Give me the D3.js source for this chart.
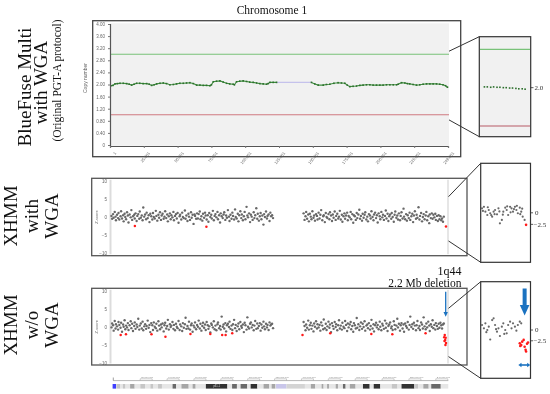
<!doctype html>
<html>
<head>
<meta charset="utf-8">
<script src="https://d3js.org/d3.v7.min.js"></script>
<style>
  body { margin: 0; background: #fff; }
  svg { will-change: transform; }
  .big { font: 19px "Liberation Serif", serif; fill: #111; }
  .mid { font: 11.5px "Liberation Serif", serif; fill: #111; }
  .tiny { font-family: "Liberation Sans", sans-serif; font-size: 4.5px; fill: #666; }
  .inlab { font: 7px "Liberation Serif", serif; fill: #333; }
</style>
</head>
<body>
<script>

// ---- BlueFuse copy number (Mb, copy number) ----
var cnP = [[0.7,1.96],[2.2,1.97],[3.7,2.02],[5.5,2.03],[7.4,2.04],[9.8,2.04],[12.3,2.03],[14.2,2.01],[16.0,1.98],[17.8,2.01],
  [19.7,2.04],[22.0,2.04],[24.5,2.03],[27.1,2.03],[29.0,2.01],[30.8,1.97],[32.6,1.99],[34.5,2.02],[37.0,2.04],[39.4,2.05],
  [41.8,2.03],[44.3,1.99],[46.8,2.00],[49.2,2.02],[51.7,2.04],[54.2,2.04],[56.6,2.05],[59.1,2.06],[61.6,2.03],[64.1,1.98],
  [66.5,1.98],[69.0,1.97],[71.4,1.97],[73.9,1.96],[75.0,1.99],[76.4,2.09],[78.8,2.11],[81.3,2.12],[83.7,2.08],[86.2,2.04],
  [88.6,2.02],[91.1,2.01],[92.0,1.99],[93.6,2.09],[96.0,2.11],[98.5,2.12],[101.0,2.10],[103.4,2.08],[105.9,2.07],[108.4,2.05],
  [110.9,2.03],[113.3,2.02],[115.8,2.01],[117.0,2.03],[118.3,2.07],[120.7,2.07],[123.2,2.07]];
var cnGap = [[123.2,2.07],[149.0,2.07]];
var cnQ = [[149.0,2.07],[151.5,2.02],[154.0,1.98],[157.7,1.98],[160.1,2.00],[162.6,2.01],[165.6,2.04],[168.7,2.06],[171.2,2.05],
  [173.7,2.04],[175.5,1.98],[177.4,1.93],[179.8,1.94],[182.3,1.95],[184.8,1.97],[187.2,1.98],[189.7,1.99],[192.2,1.99],[194.6,1.98],
  [197.1,1.98],[199.6,1.98],[202.0,1.98],[204.5,1.99],[207.0,1.99],[209.5,1.99],[212.0,1.99],[213.1,2.01],[215.6,2.06],[218.1,2.05],
  [220.0,2.03],[221.7,2.02],[224.2,2.00],[226.7,1.98],[229.1,1.99],[231.6,2.01],[234.1,2.02],[236.6,2.02],[239.0,2.02],[241.5,2.02],
  [243.9,2.01],[246.3,1.99],[248.2,1.96],[249.6,1.91]];
var cnGain = 3.0, cnLoss = 1.0;
var cnTicks = [0,0.4,0.8,1.2,1.6,2.0,2.4,2.8,3.2,3.6,4.0];
var posTicks = [0,25,50,75,100,125,150,175,200,225,250];
var posTickLabels = ['1','25,001','50,001','75,001','100,001','125,001','150,001','175,001','200,001','225,001','249,001'];

// BlueFuse inset (Mb, copy number)
var cnInset = [[240.6,2.02],[241.2,2.02],[241.9,2.01],[242.5,2.02],[243.2,2.01],[243.8,2.01],[244.5,2.00],[245.1,2.00],
  [245.8,1.99],[246.4,1.99],[247.1,1.98],[247.7,1.97],[248.4,1.97],[249.0,1.96]];

// ---- XHMM exome targets (Mb) ----
var targetMb = [1.1,1.6,2.3,2.7,3.5,4.1,4.4,5.2,6.0,6.3,6.9,7.8,8.2,8.9,9.7,10.1,10.8,11.3,11.9,12.6,13.2,13.7,14.5,15.3,15.8,
  16.4,17.0,17.9,18.3,18.9,19.7,20.2,20.9,21.6,22.0,22.8,23.5,24.1,24.6,25.3,26.0,26.7,27.1,27.9,28.6,29.2,29.8,30.5,31.3,31.8,
  32.4,33.1,33.9,34.3,35.0,35.8,36.3,37.0,37.7,38.2,38.9,39.7,40.3,40.8,41.6,42.3,42.8,43.5,44.3,44.9,45.4,46.2,46.9,47.3,48.1,
  48.8,49.4,50.0,50.7,51.5,51.9,52.7,53.4,53.9,54.6,55.4,55.9,56.5,57.3,58.0,58.4,59.2,59.9,60.4,61.1,61.8,62.5,62.9,63.7,64.4,
  65.0,65.6,66.4,66.9,67.6,68.3,68.8,69.6,70.3,70.8,71.5,72.3,72.8,73.4,74.2,74.9,75.3,76.1,76.8,77.4,78.0,78.7,79.5,79.9,80.7,
  81.4,81.9,82.6,83.4,84.0,84.5,85.3,85.9,86.5,87.2,88.0,88.4,89.1,89.9,90.5,91.0,91.8,92.5,93.0,93.7,94.5,95.0,95.6,96.4,97.1,
  97.5,98.3,99.0,99.6,100.2,101.0,101.6,102.1,102.9,103.6,104.2,104.8,105.5,106.3,106.8,107.4,108.2,108.9,109.3,110.1,110.8,111.4,
  112.0,112.7,113.5,114.0,114.6,115.4,116.1,116.5,117.3,118.0,118.6,119.2,119.9,120.6,
  143.2,143.9,144.6,145.1,145.8,146.6,147.1,147.8,148.5,149.0,149.7,150.5,151.0,151.6,152.4,153.1,153.5,154.3,155.0,155.6,156.2,
  157.0,157.7,158.1,158.9,159.6,160.2,160.8,161.6,162.3,162.7,163.5,164.2,164.8,165.4,166.2,166.9,167.3,168.1,168.8,169.4,170.0,
  170.7,171.5,171.9,172.7,173.4,173.9,174.6,175.4,175.9,176.5,177.3,178.0,178.4,179.2,179.9,180.4,181.1,181.8,182.5,182.9,183.7,
  184.4,185.0,185.6,186.4,186.9,187.6,188.3,188.8,189.6,190.3,190.8,191.5,192.3,192.8,193.4,194.2,194.9,195.3,196.1,196.8,197.4,
  198.0,198.7,199.5,199.9,200.7,201.4,201.9,202.6,203.4,204.0,204.5,205.3,205.9,206.5,207.2,208.0,208.4,209.1,209.9,210.5,211.0,
  211.8,212.5,213.0,213.7,214.5,215.0,215.6,216.4,217.1,217.5,218.3,219.0,219.6,220.2,221.0,221.6,222.1,222.9,223.6,224.2,224.8,
  225.5,226.3,226.8,227.4,228.2,228.9,229.3,230.1,230.8,231.4,232.0,232.7,233.5,234.0,234.6,235.4,236.1,236.5,237.3,238.0,238.6,
  239.2,239.9,240.6,241.0,241.8,242.5,243.1,243.7,244.4,245.0,245.6,246.3,246.9];
var nP = 184; // targets on the p arm

// z-scores, XHMM with WGA (p arm then q arm)
var zWithP = [0.3,-0.5,0.8,-0.2,1.4,0.1,-0.9,0.6,-0.3,1.1,-0.7,0.2,1.6,-0.4,0.5,-1.2,0.9,0.0,-0.6,1.3,
  0.4,-1.5,0.7,-0.1,1.9,-0.8,0.2,0.6,-0.4,1.0,-1.1,0.3,0.8,-0.5,1.5,-0.2,0.4,-0.9,2.6,0.1,
  0.7,-0.6,1.2,-0.3,0.5,-1.4,0.9,0.2,-0.7,1.1,0.0,-0.4,1.7,0.3,-1.0,0.6,-0.2,1.3,-0.8,0.4,
  0.9,-0.5,0.1,1.6,-0.3,0.7,-1.2,0.2,1.0,-0.6,0.5,-0.1,1.4,-0.9,0.3,0.8,-0.4,1.1,-1.6,0.2,
  0.6,-0.7,1.2,0.0,-0.3,1.8,-0.5,0.4,-1.1,0.9,0.1,-0.8,1.3,-0.2,0.6,-1.9,0.7,0.3,-0.5,1.0,
  -0.4,0.8,1.5,-0.6,0.2,-1.0,0.9,-0.2,1.2,0.4,-0.7,0.5,-1.3,1.1,0.0,0.6,-0.4,1.7,-0.9,0.3,
  0.8,-0.1,1.4,-0.6,0.5,-1.5,1.0,0.2,-0.3,0.7,1.3,-0.8,0.4,-0.2,1.9,0.1,-1.1,0.6,-0.5,1.2,
  0.3,-0.7,2.1,0.0,-0.4,0.9,-1.2,0.5,1.6,-0.3,0.7,-0.9,0.2,1.4,-0.6,2.8,0.4,-0.1,1.0,-1.4,
  0.6,0.1,-0.8,1.3,-0.3,0.5,2.4,-0.5,0.9,-1.0,0.2,1.1,-0.6,0.4,-2.1,0.8,0.0,1.5,-0.4,0.3,
  0.7,-1.1,1.2,0.2];
var zWithQ = [0.5,-0.3,1.0,-0.8,0.2,1.4,-0.5,0.7,-1.2,0.9,0.1,-0.6,1.6,-0.2,0.4,-1.0,0.8,0.3,-0.7,1.2,
  -0.4,0.6,1.9,-0.9,0.2,0.5,-1.4,1.1,0.0,-0.3,0.8,-0.6,1.3,0.4,-1.1,0.7,-0.2,1.5,-0.8,0.3,
  0.9,-0.4,0.1,1.7,-0.7,0.6,-1.3,0.2,1.0,-0.5,0.4,1.2,-0.9,0.3,-0.1,1.4,-0.6,0.8,-1.6,0.5,
  0.2,-0.8,1.1,-0.3,0.7,2.0,-0.5,0.3,-1.0,0.9,-0.2,0.6,1.3,-0.7,0.1,-1.2,0.8,0.4,-0.4,1.6,
  0.0,-0.9,0.7,1.2,-0.3,0.5,-1.5,1.0,0.2,-0.6,1.4,-0.1,0.6,-0.8,0.3,1.8,-0.4,0.9,-1.1,0.2,
  0.7,-0.5,1.1,0.0,-1.3,0.6,1.5,-0.2,0.4,-0.7,1.0,-0.9,0.3,1.3,-0.4,2.3,0.1,-0.6,0.8,-1.0,
  0.5,-0.3,1.2,-0.8,0.2,0.9,-1.4,0.4,1.6,-0.5,0.6,-0.2,2.7,-0.7,0.3,1.1,-1.2,0.0,0.8,-0.6,
  0.4,1.4,-0.9,0.2,-1.7,0.7,-0.3,1.0,-0.5,0.6,-0.1,0.9,-0.8,0.3,-1.1,0.5,-0.6,0.2,-0.9,-0.4,
  -1.3,0.1,-0.7,-1.0];
var redWith = [[18.4,-2.5],[71.3,-2.7],[248.5,-2.6]];

// z-scores, XHMM without WGA
var zNoP = [-0.2,0.9,0.4,-1.1,1.6,-0.5,0.7,0.1,-0.8,1.3,0.5,-0.3,1.1,-1.4,0.6,0.0,1.8,-0.7,0.3,-0.2,
  1.0,-0.9,0.4,1.5,-0.4,0.8,-1.2,0.2,1.2,-0.6,0.6,-0.1,2.2,-0.8,0.3,0.9,-0.5,1.4,-1.0,0.1,
  0.7,-0.6,0.2,1.7,-0.3,0.5,-1.5,1.0,0.4,-0.9,1.2,0.0,-0.4,0.8,-1.1,1.5,0.3,-0.7,0.6,-0.2,
  0.9,-1.3,0.4,1.1,-0.5,0.2,1.9,-0.8,0.7,-0.1,0.3,1.3,-0.6,0.5,-1.0,0.8,0.0,-0.4,1.6,-0.9,
  0.6,0.1,-1.2,1.0,-0.3,0.7,2.5,-0.6,0.2,-0.5,1.4,-0.8,0.4,0.9,-1.4,0.3,-0.2,1.2,-0.7,0.5,
  0.0,1.7,-0.5,0.8,-1.1,0.2,1.1,-0.3,0.6,-0.9,1.3,0.4,-0.6,0.1,-1.6,0.9,0.5,-0.2,1.5,-0.7,
  0.3,-1.0,0.7,1.2,-0.4,0.2,-0.8,2.8,0.0,0.6,-0.5,1.0,-1.3,0.4,0.8,-0.1,1.4,-0.6,0.3,-0.9,
  0.7,1.9,-0.4,0.5,-1.2,0.1,0.9,-0.7,1.3,0.2,-0.3,0.6,-1.5,1.1,0.4,-0.8,2.6,0.0,-0.5,0.8,
  1.2,-0.2,0.5,-1.0,0.3,1.6,-0.6,0.9,-0.4,0.2,1.0,-1.1,0.6,-0.3,1.4,0.1,-0.7,0.8,-0.2,0.5,
  -0.9,1.2,0.3,0.6];
var zNoQ = [0.8,-0.4,1.3,0.2,-1.0,0.6,-0.3,1.7,-0.8,0.4,1.1,-0.6,0.3,-1.3,0.9,0.0,1.5,-0.5,0.7,-0.2,
  0.5,-1.1,1.2,0.3,-0.7,2.0,-0.4,0.8,-0.9,0.1,1.4,-0.3,0.6,-1.5,1.0,0.2,-0.6,1.3,-0.1,0.7,
  -1.0,0.4,1.8,-0.5,0.3,-0.8,1.1,0.0,-0.4,1.6,0.5,-1.2,0.9,-0.2,0.6,1.3,-0.7,0.2,-1.4,1.0,
  0.4,-0.5,2.4,-0.3,0.7,-0.9,0.1,1.2,-0.6,0.8,-0.1,1.5,-1.1,0.3,0.6,-0.4,1.0,-0.8,0.2,1.9,
  -0.5,0.7,-1.3,0.4,1.1,-0.2,0.5,-0.7,1.4,0.0,-1.0,0.8,0.3,-0.6,1.7,-0.3,0.9,-1.2,0.2,0.6,
  1.2,-0.4,0.1,-0.9,1.5,0.5,-0.7,0.3,2.2,-0.2,0.8,-1.1,0.4,1.0,-0.5,0.6,-1.4,0.9,0.2,-0.3,
  1.3,-0.8,0.5,2.8,-0.1,0.7,-0.6,1.1,0.3,-1.0,0.4,1.6,-0.4,0.2,-0.9,1.2,0.6,-0.5,2.6,0.1,
  -0.7,0.9,-0.2,1.4,0.3,-1.2,0.7,0.0,1.8,-0.4,0.5,-0.8,1.0,0.2,-0.6,0.8,-0.3,1.1,0.4,-0.5,
  0.6,0.9,-0.2,0.3];
var redNo = [[7.9,-2.3],[11.8,-2.1],[30.7,-2.1],[41.0,-2.8],[59.5,-2.0],[74.2,-2.0],[83.0,-2.3],[85.5,-2.3],[90.4,-1.8],
  [142.4,-2.3],[162.9,-1.8],[193.3,-2.0],[208.8,-2.1],[233.4,-1.8],
  [247.6,-2.3],[247.2,-2.9],[248.3,-3.1],[247.9,-3.7],[247.4,-4.0],[248.5,-4.5],[248.1,-5.1]];

// zoomed 1q44 region (Mb, z)
var insetWith = [[240.1,0.97],[240.3,0.4],[240.5,1.3],[240.8,0.24],[241.2,-0.48],[241.3,1.2],[241.5,0.6],[241.8,-0.1],[242.0,-0.5],
  [242.2,-0.84],[242.5,0.24],[242.7,-0.3],[242.8,0.6],[243.2,-0.33],[243.5,0.97],[243.7,0.3],[243.8,-2.27],[244.2,-1.55],[244.4,-0.4],
  [244.5,0.24],[244.9,1.1],[245.2,0.6],[245.3,1.4],[245.5,-0.48],[245.9,1.3],[246.0,0.1],[246.2,0.97],[246.5,0.24],[246.7,0.8],
  [246.9,1.3],[247.2,0.6],[247.3,1.5],[247.5,-0.1],[247.9,1.1],[248.0,-0.3],[248.2,0.24],[248.4,0.9],[248.5,-0.84],[248.9,-1.55]];
var insetWithRed = [[249.2,-2.6]];
var insetNo = [[240.1,1.16],[240.5,0.39],[240.8,1.55],[241.0,-0.5],[241.2,0.0],[241.5,0.77],[241.8,-2.2],[242.2,2.3],[242.5,2.7],
  [242.8,1.16],[243.0,0.2],[243.2,-0.39],[243.5,0.39],[243.8,-1.39],[244.2,0.77],[244.5,1.55],[244.7,-0.9],[244.9,0.0],[245.2,-0.77],
  [245.5,1.16],[245.9,1.93],[246.2,0.39],[246.5,1.55],[246.9,0.77],[247.2,-0.15],[247.5,1.16],[247.9,1.93],[248.2,1.55]];
var insetNoRed = [[247.9,-3.1],[248.2,-3.5],[248.4,-2.7],[248.7,-2.3],[248.9,-3.9],[249.1,-4.6],[249.2,-5.0],[249.4,-3.2],
  [249.6,-2.9],[248.0,-3.7]];

// chromosome 1 cytobands (Mb)
var cytoBands = [[0,2.3,'gneg'],[2.3,5.3,'gpos25'],[5.3,7.1,'gneg'],[7.1,9.1,'gpos25'],[9.1,12.5,'gneg'],[12.5,15.9,'gpos50'],
  [15.9,20.1,'gneg'],[20.1,23.6,'gpos25'],[23.6,27.6,'gneg'],[27.6,29.9,'gpos25'],[29.9,33.3,'gneg'],[33.3,36.2,'gpos25'],
  [36.2,44.1,'gneg'],[44.1,46.8,'gpos75'],[46.8,50.7,'gneg'],[50.7,56.1,'gpos50'],[56.1,59.0,'gneg'],[59.0,61.3,'gpos50'],
  [61.3,68.9,'gneg'],[68.9,84.9,'gpos100'],[84.9,88.4,'gneg'],[88.4,92.0,'gpos75'],[92.0,94.7,'gneg'],[94.7,99.7,'gpos75'],
  [99.7,102.2,'gneg'],[102.2,107.2,'gpos100'],[107.2,111.8,'gneg'],[111.8,116.1,'gpos50'],[116.1,117.8,'gneg'],[117.8,120.7,'gpos50'],
  [120.7,121.1,'gneg'],[121.1,128.9,'acen'],[128.9,142.6,'gvar'],[142.6,147.0,'gneg'],[147.0,150.3,'gpos50'],[150.3,155.0,'gneg'],
  [155.0,156.5,'gpos50'],[156.5,159.1,'gneg'],[159.1,160.5,'gpos50'],[160.5,165.5,'gneg'],[165.5,167.2,'gpos50'],[167.2,170.9,'gneg'],
  [170.9,172.9,'gpos75'],[172.9,176.0,'gneg'],[176.0,180.3,'gpos50'],[180.3,185.8,'gneg'],[185.8,190.8,'gpos100'],[190.8,193.8,'gneg'],
  [193.8,198.7,'gpos100'],[198.7,207.2,'gneg'],[207.2,211.5,'gpos25'],[211.5,214.5,'gneg'],[214.5,224.1,'gpos100'],[224.1,224.6,'gneg'],
  [224.6,227.0,'gpos25'],[227.0,230.7,'gneg'],[230.7,234.7,'gpos50'],[234.7,236.6,'gneg'],[236.6,243.7,'gpos75'],[243.7,249.3,'gneg']];
var rulerTicks = [20,40,60,80,100,120,140,160,180,200,220,240];

var stainColor = { gneg: '#e6e6e6', gpos25: '#c6c6c6', gpos50: '#a6a6a6', gpos75: '#6a6a6a', gpos100: '#333333', acen: '#c9c6ea', gvar: '#d4d4d4' };

var svg = d3.select('body').append('svg').attr('width', 550).attr('height', 394);

// shared genomic scale
var xMb = d3.scaleLinear().domain([0, 250]).range([110, 448]);
var xIn = d3.scaleLinear().domain([240, 249.7]).range([481.5, 528.5]);

// ---------------- row labels ----------------
function rotText(x, y, txt, cls) {
  svg.append('text').attr('class', cls).attr('text-anchor', 'middle')
    .attr('transform', 'translate(' + x + ',' + y + ') rotate(-90)').text(txt);
}
rotText(31, 87, 'BlueFuse Multi', 'big');
rotText(46.5, 82.5, 'with WGA', 'big');
rotText(61, 80.5, '(Original PGT-A protocol)', 'mid');
rotText(16.5, 216, 'XHMM', 'big');
rotText(38, 216, 'with', 'big');
rotText(58, 216, 'WGA', 'big');
rotText(16.5, 325, 'XHMM', 'big');
rotText(38, 325, 'w/o', 'big');
rotText(58, 325, 'WGA', 'big');

svg.append('text').attr('class', 'mid').attr('x', 272).attr('y', 14).attr('text-anchor', 'middle').text('Chromosome 1');

// ---------------- BlueFuse panel ----------------
var yCn = d3.scaleLinear().domain([0, 4]).range([145, 24]);
svg.append('rect').attr('x', 92.7).attr('y', 20.7).attr('width', 368).attr('height', 136)
  .attr('fill', '#fff').attr('stroke', '#444').attr('stroke-width', 1.3);
svg.append('rect').attr('x', 110).attr('y', 23.3).attr('width', 339).attr('height', 122.5).attr('fill', '#f1f1f1');

var cnLine = d3.line().x(function(d) { return xMb(d[0]); }).y(function(d) { return yCn(d[1]); });
[[cnGain, '#79c279'], [cnLoss, '#cf7a80']].forEach(function(t) {
  svg.append('line').attr('x1', 110).attr('x2', 449).attr('y1', yCn(t[0])).attr('y2', yCn(t[0]))
    .attr('stroke', t[1]).attr('stroke-width', 1.1);
});
svg.append('path').datum(cnGap).attr('d', cnLine).attr('fill', 'none').attr('stroke', '#c5c2ec').attr('stroke-width', 1.4);
[cnP, cnQ].forEach(function(seg) {
  svg.append('path').datum(seg).attr('d', cnLine).attr('fill', 'none').attr('stroke', '#3f8f3f').attr('stroke-width', 1.1);
  svg.append('g').selectAll('rect').data(seg).enter().append('rect')
    .attr('x', function(d) { return xMb(d[0]) - 0.8; }).attr('y', function(d) { return yCn(d[1]) - 0.8; })
    .attr('width', 1.6).attr('height', 1.6).attr('fill', '#2c6f2c');
});

var cnAxis = svg.append('g').attr('transform', 'translate(110,0)')
  .call(d3.axisLeft(yCn).tickValues(cnTicks).tickSize(2).tickPadding(3)
    .tickFormat(function(d) { return d === 0 ? '0' : d.toFixed(2); }));
var posAxis = svg.append('g').attr('transform', 'translate(0,146)')
  .call(d3.axisBottom(xMb).tickValues(posTicks).tickSize(2).tickPadding(2)
    .tickFormat(function(d, i) { return posTickLabels[i]; }));
[cnAxis, posAxis].forEach(function(a) {
  a.select('.domain').attr('stroke', '#555').attr('stroke-width', 1.2);
  a.selectAll('.tick line').attr('stroke', '#777');
  a.selectAll('text').attr('class', 'tiny').attr('font-size', null).attr('font-family', null).attr('fill', null);
});
posAxis.selectAll('text').attr('text-anchor', 'end').attr('dy', '0.3em').style('font-size', '4px')
  .attr('transform', 'translate(2,4) rotate(-50)');
svg.append('text').attr('class', 'tiny').style('font-size', '5px').attr('text-anchor', 'middle')
  .attr('transform', 'translate(87,78) rotate(-90)').text('Copy number');

// BlueFuse inset
var yCnIn = d3.scaleLinear().domain([0.72, 3.33]).range([136.7, 36.7]);
svg.append('line').attr('x1', 449).attr('y1', yCn(3.1)).attr('x2', 479.3).attr('y2', 36.7).attr('stroke', '#333');
svg.append('line').attr('x1', 449).attr('y1', yCn(0.83)).attr('x2', 479.3).attr('y2', 136.7).attr('stroke', '#333');
svg.append('rect').attr('x', 479.3).attr('y', 36.7).attr('width', 51.4).attr('height', 100)
  .attr('fill', '#f1f1f1').attr('stroke', '#333').attr('stroke-width', 1.2);
[[cnGain, '#79c279'], [cnLoss, '#b85a66']].forEach(function(t) {
  svg.append('line').attr('x1', 480).attr('x2', 530).attr('y1', yCnIn(t[0])).attr('y2', yCnIn(t[0]))
    .attr('stroke', t[1]).attr('stroke-width', 1.1);
});
svg.append('g').selectAll('rect').data(cnInset).enter().append('rect')
  .attr('x', function(d) { return xIn(d[0]) - 0.8; }).attr('y', function(d) { return yCnIn(d[1]) - 0.8; })
  .attr('width', 1.6).attr('height', 1.6).attr('fill', '#2c6f2c');
svg.append('line').attr('x1', 530.7).attr('x2', 533.5).attr('y1', yCnIn(2)).attr('y2', yCnIn(2)).attr('stroke', '#333').attr('stroke-width', 0.8);
svg.append('text').attr('class', 'inlab').style('fill', '#333').attr('x', 534.5).attr('y', yCnIn(2) + 2.4).text('2.0');

// ---------------- XHMM panels ----------------
function xhmmPanel(top, bottom, zRange, zP, zQ, red, inset) {
  var y = d3.scaleLinear().domain([-10, 10]).range(zRange);
  svg.append('rect').attr('x', 91.7).attr('y', top).attr('width', 375.3).attr('height', bottom - top)
    .attr('fill', '#fff').attr('stroke', '#555').attr('stroke-width', 1.3);
  svg.append('line').attr('x1', 110.5).attr('x2', 110.5).attr('y1', top + 1.5).attr('y2', bottom - 1.5)
    .attr('stroke', '#dcdcdc').attr('stroke-width', 2);
  svg.append('line').attr('x1', xMb(250)).attr('x2', xMb(250)).attr('y1', top + 1.5).attr('y2', bottom - 1.5)
    .attr('stroke', '#dedede').attr('stroke-width', 1.5);

  var ax = svg.append('g').attr('transform', 'translate(110,0)')
    .call(d3.axisLeft(y).tickValues([-10, -5, 0, 5, 10]).tickSize(0).tickPadding(3));
  ax.select('.domain').remove();
  ax.selectAll('text').attr('class', 'tiny').attr('font-size', null).attr('font-family', null).attr('fill', null);
  svg.append('text').attr('class', 'tiny').style('font-size', '4px').attr('text-anchor', 'middle')
    .attr('transform', 'translate(97.5,' + y(0) + ') rotate(-90)').text('Z-score');

  var gray = d3.zip(targetMb.slice(0, nP), zP).concat(d3.zip(targetMb.slice(nP), zQ));
  svg.append('g').selectAll('circle').data(gray).enter().append('circle')
    .attr('cx', function(d) { return xMb(d[0]); }).attr('cy', function(d) { return y(d[1]); })
    .attr('r', 1.2).attr('fill', '#686868');
  svg.append('g').selectAll('circle').data(red).enter().append('circle')
    .attr('cx', function(d) { return xMb(d[0]); }).attr('cy', function(d) { return y(d[1]); })
    .attr('r', 1.25).attr('fill', '#ff1a1a');

  // zoom inset
  var yi = d3.scaleLinear().domain([-inset.half, inset.half]).range([inset.bottom, inset.top]);
  svg.append('line').attr('x1', 448.5).attr('y1', y(inset.from[0])).attr('x2', 480.7).attr('y2', inset.top).attr('stroke', '#333');
  svg.append('line').attr('x1', 448.5).attr('y1', y(inset.from[1])).attr('x2', 480.7).attr('y2', inset.bottom).attr('stroke', '#333');
  svg.append('rect').attr('x', 480.7).attr('y', inset.top).attr('width', 49.8).attr('height', inset.bottom - inset.top)
    .attr('fill', '#fff').attr('stroke', '#333').attr('stroke-width', 1.2);
  svg.append('g').selectAll('circle').data(inset.gray).enter().append('circle')
    .attr('cx', function(d) { return xIn(d[0]); }).attr('cy', function(d) { return yi(d[1]); })
    .attr('r', 1.1).attr('fill', '#686868');
  svg.append('g').selectAll('circle').data(inset.red).enter().append('circle')
    .attr('cx', function(d) { return xIn(d[0]); }).attr('cy', function(d) { return yi(d[1]); })
    .attr('r', 1.3).attr('fill', '#ff1a1a');
  [0, -2.5].forEach(function(v) {
    svg.append('line').attr('x1', 530.5).attr('x2', 533).attr('y1', yi(v)).attr('y2', yi(v)).attr('stroke', '#333').attr('stroke-width', 0.8);
    svg.append('text').attr('class', 'inlab').style('fill', '#333').attr('x', v === 0 ? 535 : 533.5).attr('y', yi(v) + 2.4)
      .text(v === 0 ? '0' : '\u22122.5');
  });
  return { y: y, yi: yi };
}

xhmmPanel(178.3, 255.7, [253.3, 180.7], zWithP, zWithQ, redWith,
  { top: 163.3, bottom: 262.3, half: 10.7, from: [5.6, -6.6], gray: insetWith, red: insetWithRed });
xhmmPanel(288.3, 365, [362.7, 290.7], zNoP, zNoQ, redNo,
  { top: 281.7, bottom: 378.3, half: 11.2, from: [5.1, -8.3], gray: insetNo, red: insetNoRed });

// 1q44 annotation
var blue = '#1b72c0';
svg.append('text').attr('class', 'mid').style('font-size', '12px').attr('x', 461.5).attr('y', 274.5).attr('text-anchor', 'end').text('1q44');
svg.append('text').attr('class', 'mid').attr('x', 461.5).attr('y', 286.5).attr('text-anchor', 'end').text('2.2 Mb deletion');
var ax3 = xMb(248.3);
svg.append('line').attr('x1', ax3).attr('x2', ax3).attr('y1', 291.7).attr('y2', 313).attr('stroke', blue).attr('stroke-width', 1.3);
svg.append('path').attr('d', d3.line()([[ax3 - 2.2, 312], [ax3 + 2.2, 312], [ax3, 316.8]])).attr('fill', blue);

var axi = xIn(248.9);
svg.append('line').attr('x1', axi).attr('x2', axi).attr('y1', 288.5).attr('y2', 306).attr('stroke', blue).attr('stroke-width', 4);
svg.append('path').attr('d', d3.line()([[axi - 4.8, 305], [axi + 4.8, 305], [axi, 315.5]])).attr('fill', blue);
var ha = 365;
svg.append('line').attr('x1', 520.5).attr('x2', 528).attr('y1', ha).attr('y2', ha).attr('stroke', blue).attr('stroke-width', 1.6);
svg.append('path').attr('d', d3.line()([[518.3, ha], [521.5, ha - 2.3], [521.5, ha + 2.3]])).attr('fill', blue);
svg.append('path').attr('d', d3.line()([[530.3, ha], [527.1, ha - 2.3], [527.1, ha + 2.3]])).attr('fill', blue);

// ---------------- ideogram ----------------
var xIdeo = d3.scaleLinear().domain([0, 249.3]).range([113.3, 448.3]);
svg.append('line').attr('x1', xIdeo(0)).attr('x2', xIdeo(249.3)).attr('y1', 380.6).attr('y2', 380.6).attr('stroke', '#999').attr('stroke-width', 0.7);
svg.append('line').attr('x1', xIdeo(0)).attr('x2', xIdeo(0)).attr('y1', 377.5).attr('y2', 380.6).attr('stroke', '#777').attr('stroke-width', 0.7);
var rt = svg.append('g').selectAll('g').data(rulerTicks).enter().append('g')
  .attr('transform', function(d) { return 'translate(' + xIdeo(d) + ',0)'; });
rt.append('path').attr('d', 'M0,380.6V378.8H12V380.6').attr('fill', 'none').attr('stroke', '#aaa').attr('stroke-width', 0.6);
rt.append('text').attr('class', 'tiny').style('font-size', '2.4px').style('fill', '#888').attr('x', 1).attr('y', 378.3)
  .text(function(d) { return d3.format(',')(d * 1000000); });
svg.append('g').selectAll('rect').data(cytoBands).enter().append('rect')
  .attr('x', function(d) { return xIdeo(d[0]); }).attr('y', 384)
  .attr('width', function(d) { return xIdeo(d[1]) - xIdeo(d[0]); }).attr('height', 4.6)
  .attr('fill', function(d) { return stainColor[d[2]]; });
svg.append('text').attr('class', 'tiny').style('font-size', '2.6px').style('fill', '#ddd')
  .attr('x', xIdeo(76.9)).attr('y', 387.3).attr('text-anchor', 'middle').text('p31.1');
svg.append('rect').attr('x', 112.6).attr('y', 384).attr('width', 3.4).attr('height', 4.6).attr('fill', '#4040ff');

</script>
</body>
</html>
